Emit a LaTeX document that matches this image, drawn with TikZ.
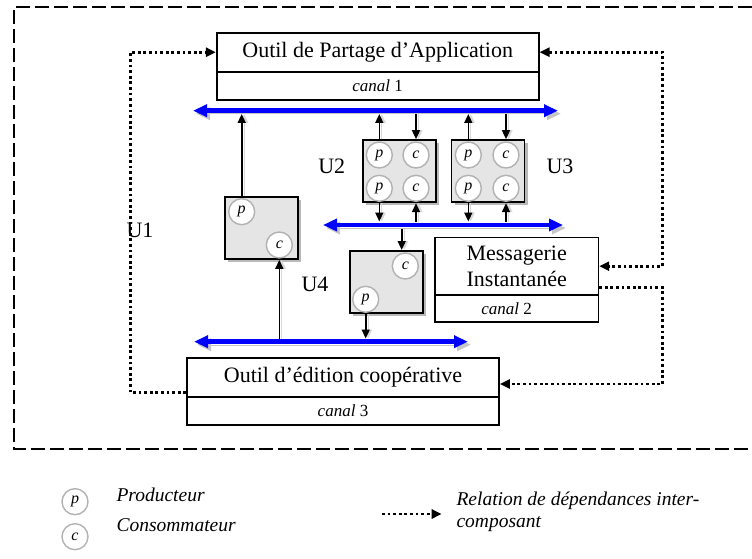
\documentclass[tikz,border=0pt]{standalone}
\usepackage{fontspec}
\setmainfont{Liberation Serif}
\usetikzlibrary{arrows.meta,shadows,calc}
\begin{document}
\begin{tikzpicture}[x=1pt,y=-1pt,
 big/.style={font=\fontsize{22}{26}\selectfont},
 tbox/.style={draw, line width=1.7pt, fill=white, inner sep=0pt, big, align=center},
 cbox/.style={draw, line width=1.7pt, fill=white, inner sep=0pt, font=\fontsize{17}{20}\selectfont},
 ubox/.style={draw, line width=1.7pt, fill=gray!20, inner sep=0pt, minimum width=73pt, minimum height=62.3pt, drop shadow={shadow xshift=3pt, shadow yshift=-3pt, fill=gray!55, opacity=1}},
 pc/.style={circle, draw=gray!60, fill=white, line width=1.4pt, minimum size=26pt, inner sep=0pt, font=\fontsize{16}{16}\selectfont\itshape},
 bus/.style={draw=blue, line width=4.5pt, {Triangle[length=14pt,width=12pt]}-{Triangle[length=14pt,width=12pt]}, preaction={draw=gray!45, transform canvas={shift={(3pt,-3pt)}}}},
 sig/.style={draw, line width=1.6pt, -{Triangle[length=9pt,width=8pt]}, preaction={draw=gray!30, line width=1.2pt, transform canvas={shift={(2.5pt,0pt)}}}},
 dep/.style={line width=2.8pt, dash pattern=on 2.8pt off 2.8pt, -{Triangle[length=10pt,width=9pt]}},
 lab/.style={big},
 leg/.style={font=\fontsize{19.5}{21.5}\selectfont\itshape, anchor=west, align=left}]
\useasboundingbox (0,0) rectangle (752,559);

% outer frame
\draw[line width=1.7pt, dash pattern=on 14pt off 5pt] (752,7) -- (14,7) -- (14,449) -- (752,449);

% buses
\coordinate (b1l) at (193,110.7); \coordinate (b1r) at (558,110.7);
\coordinate (b2l) at (323,225);   \coordinate (b2r) at (563,225);
\coordinate (b3l) at (194,341.7); \coordinate (b3r) at (468,341.7);
\draw[bus] (b1l) -- (b1r);
\draw[bus] (b2l) -- (b2r);
\draw[bus] (b3l) -- (b3r);
\coordinate (b1s) at (0,114);
\coordinate (b2t) at (0,221.5);
\coordinate (b2s) at (0,228.5);
\coordinate (b3t) at (0,338.5);

% tools
\node[tbox, minimum width=322pt, minimum height=39pt] (apt) at (377.7,52.2) {Outil de Partage d’Application};
\node[cbox, minimum width=322pt, minimum height=28.3pt] (apc) at (377.7,85.85) {\textit{canal} 1};
\node[tbox, minimum width=163.3pt, minimum height=57.7pt] (msg) at (516.7,266.2) {Messagerie\\Instantanée};
\node[cbox, minimum width=163.3pt, minimum height=26.7pt] (msc) at (516.7,308.35) {\textit{canal} 2\hspace*{20pt}};
\node[tbox, minimum width=312pt, minimum height=39pt] (edt) at (343,377.2) {Outil d’édition coopérative};
\node[cbox, minimum width=312pt, minimum height=28.3pt] (edc) at (343,410.85) {\textit{canal} 3};

% users
\node[ubox] (u1) at (261.7,227.85) {};
\node[pc] (u1p) at (241.7,211.7) {p};
\node[pc] (u1c) at (279.3,245) {c};
\node[ubox] (u2) at (399.35,171.15) {};
\node[pc] (u2a) at (379.3,155) {p};
\node[pc] (u2b) at (416,155) {c};
\node[pc] (u2c) at (379.3,188.3) {p};
\node[pc] (u2d) at (416,188.3) {c};
\node[ubox] (u3) at (488,171.15) {};
\node[pc] (u3a) at (468.3,155) {p};
\node[pc] (u3b) at (506,155) {c};
\node[pc] (u3c) at (468.3,188.3) {p};
\node[pc] (u3d) at (506,188.3) {c};
\node[ubox] (u4) at (386.15,282) {};
\node[pc] (u4c) at (405.3,266) {c};
\node[pc] (u4p) at (365.7,299.3) {p};
\coordinate (u4in) at (401.7,0);

% signal arrows
\draw[sig] (u1p |- u1.north) -- (u1p |- b1s);
\draw[sig] (u1c |- b3t) -- (u1c |- u1.south);
\draw[sig] (u2a |- u2.north) -- (u2a |- b1s);
\draw[sig] (u2b |- b1s) -- (u2b |- u2.north);
\draw[sig] (u2c |- u2.south) -- (u2c |- b2t);
\draw[sig] (u2d |- b2t) -- (u2d |- u2.south);
\draw[sig] (u3a |- u3.north) -- (u3a |- b1s);
\draw[sig] (u3b |- b1s) -- (u3b |- u3.north);
\draw[sig] (u3c |- u3.south) -- (u3c |- b2t);
\draw[sig] (u3d |- b2t) -- (u3d |- u3.south);
\draw[sig] (u4in |- b2s) -- (u4in |- u4.north);
\draw[sig] (u4p |- u4.south) -- (u4p |- b3t);

% labels
\node[lab] (l1) at (140,230) {U1};
\node[lab] (l2) at (331.7,166.7) {U2};
\node[lab] (l3) at (560,166.7) {U3};
\node[lab] (l4) at (315,284.3) {U4};

% dependency relations
\coordinate (lc0) at (130.7,200);
\draw[dep] ([yshift=4.7pt]edt.south west) -| (lc0) |- (apt.west);
\coordinate (rc0) at (662.7,150);
\draw[dep, {Triangle[length=10pt,width=9pt]}-{Triangle[length=10pt,width=9pt]}] (apt.east) -| (rc0) |- (msg.east);
\coordinate (rc1) at (662.7,330);
\draw[dep] ([yshift=-21.5pt]msg.east) -| (rc1) |- ([yshift=-6.8pt]edt.east);

% legend
\node[pc] (lp) at (75,501.7) {p};
\node[pc] (lc) at (75,536.7) {c};
\node[leg] (lpt) at (113,495) {Producteur};
\node[leg] (lct) at (113,525) {Consommateur};
\coordinate (la) at (382,514); \coordinate (lb) at (441.7,514);
\draw[dep] (la) -- (lb);
\node[leg] (lrt) at (453,512) {Relation de dépendances inter-\\composant};
\end{tikzpicture}
\end{document}
